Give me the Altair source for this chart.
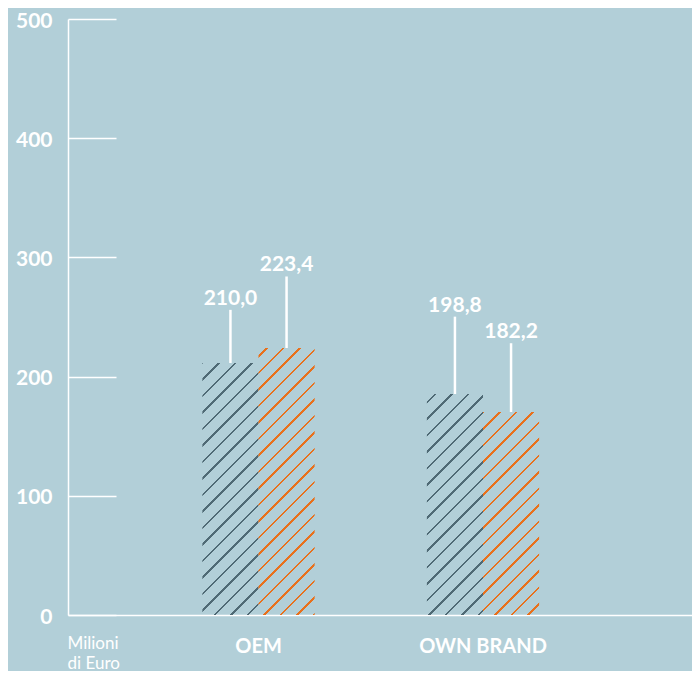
import altair as alt
import pandas as pd

# ---- data ----
categories = ["OEM", "OEM", "OWN BRAND", "OWN BRAND"]
series = ["Serie A", "Serie B", "Serie A", "Serie B"]
bar_values = [211.4, 224.0, 185.4, 170.3]      # drawn bar heights (Milioni di Euro)
label_texts = ["210,0", "223,4", "198,8", "182,2"]
leader_tops = [256.0, 284.0, 250.3, 228.0]     # top of leader line, data units
y_ticks = [0, 100, 200, 300, 400, 500]
series_order = ["Serie A", "Serie B"]
category_order = ["OEM", "OWN BRAND"]

# ---- styles ----
BG = "#b2cfd8"
GREY = "#4f6a75"
ORANGE = "#e8711d"
WHITE = "#ffffff"
FONT = "Lato"
PLOT_W, PLOT_H = 624, 596
Y_MAX = 500
PAD_INNER, PAD_OUTER, ALIGN = 0.5, 0.6398, 0.4678
PERIOD = 16.5   # hatch spacing measured along x+y
HALF = 1.4      # half thickness of a hatch line along x+y

df = pd.DataFrame({
    "idx": list(range(4)),
    "category": categories,
    "series": series,
    "value": bar_values,
    "label": label_texts,
    "top": leader_tops,
})

# band geometry (only used to line the hatch phase up across bars)
step = PLOT_W / (len(category_order) - PAD_INNER + 2 * PAD_OUTER)
band_start = (PLOT_W - step * (len(category_order) - PAD_INNER)) * ALIGN
bandwidth = step * (1 - PAD_INNER)
sub_w = bandwidth / len(series_order)


def hatch(color, left_px, value):
    h = PLOT_H * value / Y_MAX
    w = sub_w
    top = PLOT_H - h
    total = w + h
    c = (1 / h + 1 / w) / (1 / h ** 2 + 1 / w ** 2)
    phase = (-(left_px + top)) % PERIOD
    clear = "rgba(0,0,0,0)"
    stops = [{"offset": 0, "color": clear}]
    s = phase - PERIOD
    while s - HALF < total:
        a = max(0.0, (s - HALF) / total)
        b = min(1.0, (s + HALF) / total)
        if b > 0 and a < 1:
            stops += [
                {"offset": a, "color": clear},
                {"offset": a, "color": color},
                {"offset": b, "color": color},
                {"offset": b, "color": clear},
            ]
        s += PERIOD
    stops.append({"offset": 1, "color": clear})
    return {
        "gradient": "linear",
        "x1": 0, "y1": 0,
        "x2": c / h, "y2": c / w,
        "stops": stops,
    }


x_enc = alt.X(
    "category:N",
    sort=category_order,
    scale=alt.Scale(domain=category_order, paddingInner=PAD_INNER,
                    paddingOuter=PAD_OUTER, align=ALIGN),
    axis=alt.Axis(
        title=["Milioni", "di Euro"],
        titleColor=WHITE, titleFont=FONT, titleFontSize=17,
        titleFontWeight="normal", titleAnchor="start", titleAlign="left",
        titleBaseline="alphabetic", titleX=-1, titleY=33, titleLineHeight=20,
        labelColor=WHITE, labelFont=FONT, labelFontSize=20,
        labelFontWeight="bold", labelBaseline="alphabetic", labelPadding=37,
        labelAngle=0, ticks=False, tickSize=0,
        domain=True, domainColor=WHITE, domainWidth=1.5, grid=False,
    ),
)
xo_enc = alt.XOffset("series:N", scale=alt.Scale(domain=series_order, paddingInner=0, paddingOuter=0))
y_scale = alt.Scale(domain=[0, Y_MAX])

base = alt.Chart(df)

layers = []
for i in range(4):
    color = GREY if series[i] == series_order[0] else ORANGE
    cat_i = category_order.index(categories[i])
    ser_i = series_order.index(series[i])
    left_px = band_start + cat_i * step + ser_i * sub_w
    if i == 0:
        y_axis = alt.Axis(
            orient="left", offset=-48, values=y_ticks, domain=False,
            ticks=True, tickSize=48, tickColor=WHITE, tickWidth=1.5,
            labelColor=WHITE, labelFont=FONT, labelFontSize=21,
            labelFontWeight="bold", labelPadding=16, labelOffset=2,
            grid=False, title=None,
        )
    else:
        y_axis = None
    layers.append(
        base.transform_filter(alt.datum.idx == i)
        .mark_bar(fill=hatch(color, left_px, bar_values[i]), strokeWidth=0)
        .encode(x=x_enc, xOffset=xo_enc,
                y=alt.Y("value:Q", scale=y_scale, axis=y_axis))
    )

leaders = base.mark_rule(color=WHITE, strokeWidth=2.5).encode(
    x=x_enc, xOffset=xo_enc,
    y=alt.Y("value:Q", scale=y_scale,
            axis=alt.Axis(orient="left", domain=True, domainColor=WHITE,
                          domainWidth=1.5, ticks=False, labels=False,
                          grid=False, title=None)),
    y2="top:Q",
)

labels = base.mark_text(
    color=WHITE, font=FONT, fontSize=21, fontWeight="bold",
    baseline="alphabetic", align="center", dy=-5,
).encode(
    x=x_enc, xOffset=xo_enc,
    y=alt.Y("top:Q", scale=y_scale, axis=None),
    text="label:N",
)

chart = (
    alt.layer(*layers, leaders, labels)
    .resolve_axis(y="independent")
    .properties(
        width=PLOT_W, height=PLOT_H,
        background=BG,
        padding={"left": 60, "top": 11, "right": 0, "bottom": 56},
        autosize=alt.AutoSizeParams(type="none"),
    )
    .configure_view(stroke=None)
)

chart.save("out.html", embed_options={"renderer": "svg", "actions": False})
